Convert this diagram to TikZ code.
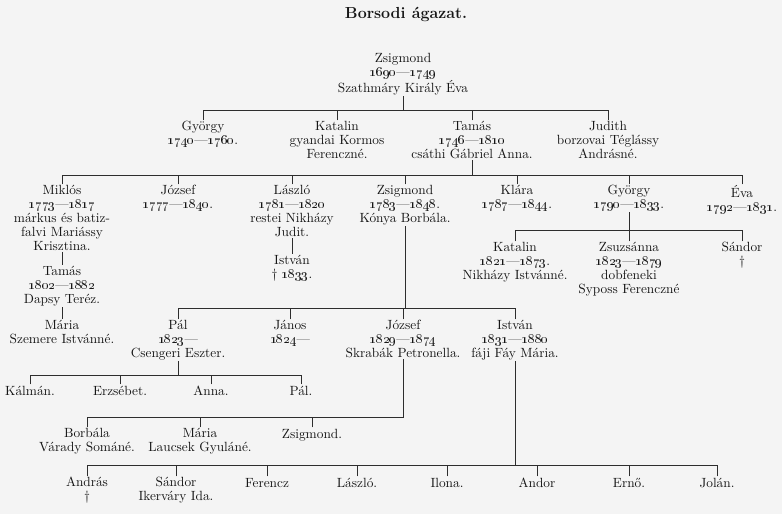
\documentclass[tikz,border=0pt]{standalone}
\usepackage{xcolor}
\definecolor{bg}{RGB}{244,244,244}
\definecolor{ink}{RGB}{22,22,22}
\newcommand\osn[1]{\oldstylenums{#1}}
\tikzset{
  person/.style={anchor=north, align=center, inner sep=0.6pt, text=ink,
    font=\fontsize{10}{10.5}\selectfont,
    execute at begin node={\rule{0pt}{7.4pt}}},
  titlestyle/.style={font=\fontsize{12}{14}\selectfont\bfseries, text=ink, inner sep=0pt},
  ln/.style={draw=ink!90, line width=0.55pt}
}
\begin{document}
\begin{tikzpicture}[x=0.75pt,y=-0.75pt]
\fill[bg] (0,0) rectangle (782,514);
\useasboundingbox (0,0) rectangle (782,514);

\node[titlestyle] (title) at (406,14) {Borsodi ágazat.};

% level 0
\node[person] (z0) at (403,52.3) {Zsigmond\\\osn{1690}—\osn{1749}\\Szathmáry Király Éva};

% level 1
\coordinate (b1) at (0,110);
\node[person] (gy1) at (203,120.3) {György\\\osn{1740}—\osn{1760}.};
\node[person] (ka1) at (337,120.3) {Katalin\\gyandai Kormos\\Ferenczné.};
\node[person] (ta1) at (472,120.3) {Tamás\\\osn{1746}—\osn{1810}\\csáthi Gábriel Anna.};
\node[person] (ju1) at (608,120.3) {Judith\\borzovai Téglássy\\Andrásné.};
\draw[ln] (z0.south) -- (z0.south |- b1);
\draw[ln] (gy1.north |- b1) -- (ju1.north |- b1);
\foreach \n in {gy1,ka1,ta1,ju1} \draw[ln] (\n.north) -- (\n.north |- b1);

% level 2
\coordinate (b2) at (0,175);
\node[person] (mi2) at (62,184.3) {Miklós\\\osn{1773}—\osn{1817}\\márkus és batiz-\\falvi Mariássy\\Krisztina.};
\node[person] (jo2) at (178,184.3) {József\\\osn{1777}—\osn{1840}.};
\node[person] (la2) at (292,184.3) {László\\\osn{1781}—\osn{1820}\\restei Nikházy\\Judit.};
\node[person] (zs2) at (405,184.3) {Zsigmond\\\osn{1783}—\osn{1848}.\\Kónya Borbála.};
\node[person] (kl2) at (517,184.3) {Klára\\\osn{1787}—\osn{1844}.};
\node[person] (gy2) at (629,184.3) {György\\\osn{1790}—\osn{1833}.};
\node[person] (ev2) at (742,184.3) {Éva\\\osn{1792}—\osn{1831}.};
\draw[ln] (ta1.south) -- (ta1.south |- b2);
\draw[ln] (mi2.north |- b2) -- (ev2.north |- b2);
\foreach \n in {mi2,jo2,la2,zs2,kl2,gy2,ev2} \draw[ln] (\n.north) -- (\n.north |- b2);

% Miklos line
\node[person] (tm3) at (62,265.3) {Tamás\\\osn{1802}—\osn{1882}\\Dapsy Teréz.};
\node[person] (ma4) at (62,319.3) {Mária\\Szemere Istvánné.};
\draw[ln] (mi2.south) -- (tm3.north);
\draw[ln] (tm3.south) -- (ma4.north);

% Laszlo line
\node[person] (is3) at (292,254.3) {István\\† \osn{1833}.};
\draw[ln] (la2.south) -- (is3.north);

% Gyorgy children
\coordinate (bg) at (0,230);
\node[person] (ka3) at (515,241.3) {Katalin\\\osn{1821}—\osn{1873}.\\Nikházy Istvánné.};
\node[person] (zu3) at (629,241.3) {Zsuzsánna\\\osn{1823}—\osn{1879}\\dobfeneki\\Syposs Ferenczné};
\node[person] (sa3) at (742,241.3) {Sándor\\†};
\draw[ln] (gy2.south) -- (gy2.south |- bg);
\draw[ln] (ka3.north |- bg) -- (sa3.north |- bg);
\foreach \n in {ka3,zu3,sa3} \draw[ln] (\n.north) -- (\n.north |- bg);

% Zsigmond 1783 children
\coordinate (b3) at (0,308);
\node[person] (pa3) at (178,319.3) {Pál\\\osn{1823}—\\Csengeri Eszter.};
\node[person] (ja3) at (290,319.3) {János\\\osn{1824}—};
\node[person] (jf3) at (403,319.3) {József\\\osn{1829}—\osn{1874}\\Skrabák Petronella.};
\node[person] (it3) at (515,319.3) {István\\\osn{1831}—\osn{1880}\\fáji Fáy Mária.};
\draw[ln] (zs2.south) -- (zs2.south |- b3);
\draw[ln] (pa3.north |- b3) -- (it3.north |- b3);
\foreach \n in {pa3,ja3,jf3,it3} \draw[ln] (\n.north) -- (\n.north |- b3);

% Pal children
\coordinate (bp) at (0,375);
\node[person] (km4) at (30,384.3) {Kálmán.};
\node[person] (er4) at (120,384.3) {Erzsébet.};
\node[person] (an4) at (211,384.3) {Anna.};
\node[person] (pl4) at (301,384.3) {Pál.};
\draw[ln] (pa3.south) -- (pa3.south |- bp);
\draw[ln] (km4.north |- bp) -- (pl4.north |- bp);
\foreach \n in {km4,er4,an4,pl4} \draw[ln] (\n.north) -- (\n.north |- bp);

% Jozsef children
\coordinate (bj) at (0,417);
\node[person] (bo4) at (87,427.3) {Borbála\\Várady Sománé.};
\node[person] (mr4) at (200,427.3) {Mária\\Laucsek Gyuláné.};
\node[person] (zg4) at (312,427.3) {Zsigmond.};
\draw[ln] (jf3.south) |- (bo4.north |- bj);
\foreach \n in {bo4,mr4,zg4} \draw[ln] (\n.north) -- (\n.north |- bj);

% Istvan children
\coordinate (bi) at (0,465);
\node[person] (ad5) at (87,476.3) {András\\†};
\node[person] (sd5) at (176,476.3) {Sándor\\Ikerváry Ida.};
\node[person] (fe5) at (267,476.3) {Ferencz};
\node[person] (lz5) at (357,476.3) {László.};
\node[person] (il5) at (447,476.3) {Ilona.};
\node[person] (ao5) at (537,476.3) {Andor};
\node[person] (eo5) at (629,476.3) {Ernő.};
\node[person] (jl5) at (717,476.3) {Jolán.};
\draw[ln] (it3.south) -- (it3.south |- bi);
\draw[ln] (ad5.north |- bi) -- (jl5.north |- bi);
\foreach \n in {ad5,sd5,fe5,lz5,il5,ao5,eo5,jl5} \draw[ln] (\n.north) -- (\n.north |- bi);
\end{tikzpicture}
\end{document}
